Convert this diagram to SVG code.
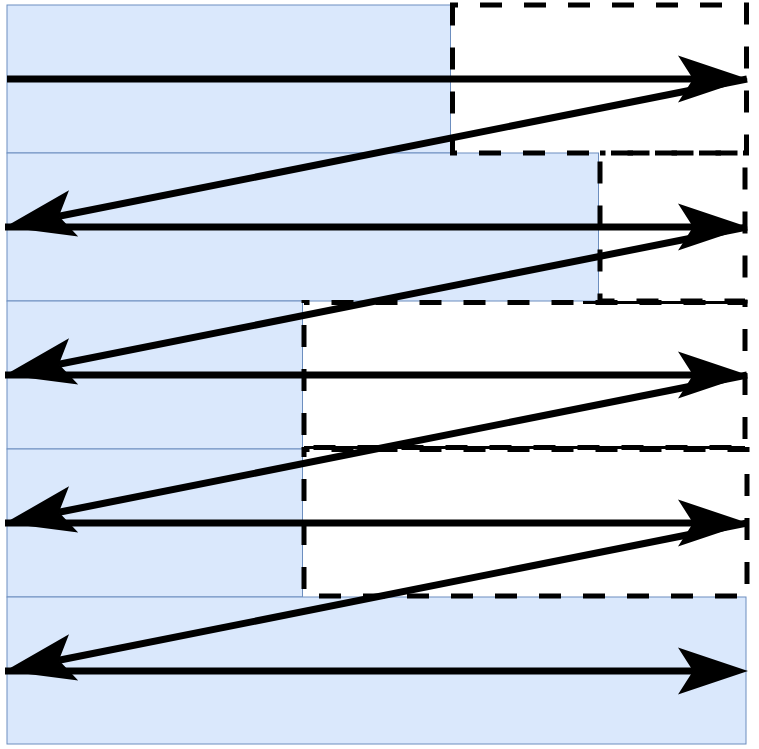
<svg xmlns="http://www.w3.org/2000/svg" width="759" height="749" viewBox="0 0 759 749">
<style>
.blue{fill:#dae8fc;stroke:#6c8ebf;stroke-width:1}
.dash{fill:none;stroke:#000;stroke-width:5;stroke-dasharray:22 22;stroke-dashoffset:16.5}
.thin{fill:none;stroke:#000;stroke-width:3}
.conn{fill:none;stroke:#000;stroke-width:7}
</style>
<defs>
<marker id="ah" markerUnits="userSpaceOnUse" orient="auto" refX="0" refY="0" markerWidth="80" markerHeight="50" overflow="visible">
<path d="M55,0 L-15,-23.5 L0,0 L-15,23.5 Z" fill="#000"/>
</marker>
</defs>
<rect width="759" height="749" fill="#fff"/>
<g id="row1"><rect class="blue" x="7" y="5" width="443.5" height="148"/></g>
<g id="row2"><rect class="blue" x="7" y="153" width="591.5" height="148"/></g>
<g id="row3"><rect class="blue" x="7" y="301" width="295.5" height="148"/></g>
<g id="row4"><rect class="blue" x="7" y="449" width="295.5" height="148"/></g>
<g id="row5"><rect class="blue" x="7" y="597" width="739" height="147"/></g>
<g id="free1"><rect class="dash" x="452.5" y="5" width="294" height="148"/></g>
<g id="free2"><rect class="dash" x="600" y="153" width="145" height="148"/><line class="thin" x1="583" y1="302.5" x2="745" y2="302.5"/></g>
<g id="free3"><rect class="dash" x="304" y="302.5" width="441" height="145"/><line class="thin" x1="304" y1="447.5" x2="745" y2="447.5"/></g>
<g id="free4"><rect class="dash" x="304" y="449.5" width="443" height="146.5"/></g>
<g id="connectors">
<line class="conn" x1="7" y1="79" x2="693" y2="79" marker-end="url(#ah)"/>
<line class="conn" x1="5" y1="227" x2="693" y2="227" marker-end="url(#ah)"/>
<line class="conn" x1="5" y1="375" x2="693" y2="375" marker-end="url(#ah)"/>
<line class="conn" x1="5" y1="523" x2="693" y2="523" marker-end="url(#ah)"/>
<line class="conn" x1="5" y1="671" x2="693" y2="671" marker-end="url(#ah)"/>
<line class="conn" x1="747" y1="79" x2="58.9" y2="216.3" marker-end="url(#ah)"/>
<line class="conn" x1="747" y1="227" x2="58.9" y2="364.3" marker-end="url(#ah)"/>
<line class="conn" x1="747" y1="375" x2="58.9" y2="512.3" marker-end="url(#ah)"/>
<line class="conn" x1="747" y1="523" x2="58.9" y2="660.3" marker-end="url(#ah)"/>
</g>
</svg>
